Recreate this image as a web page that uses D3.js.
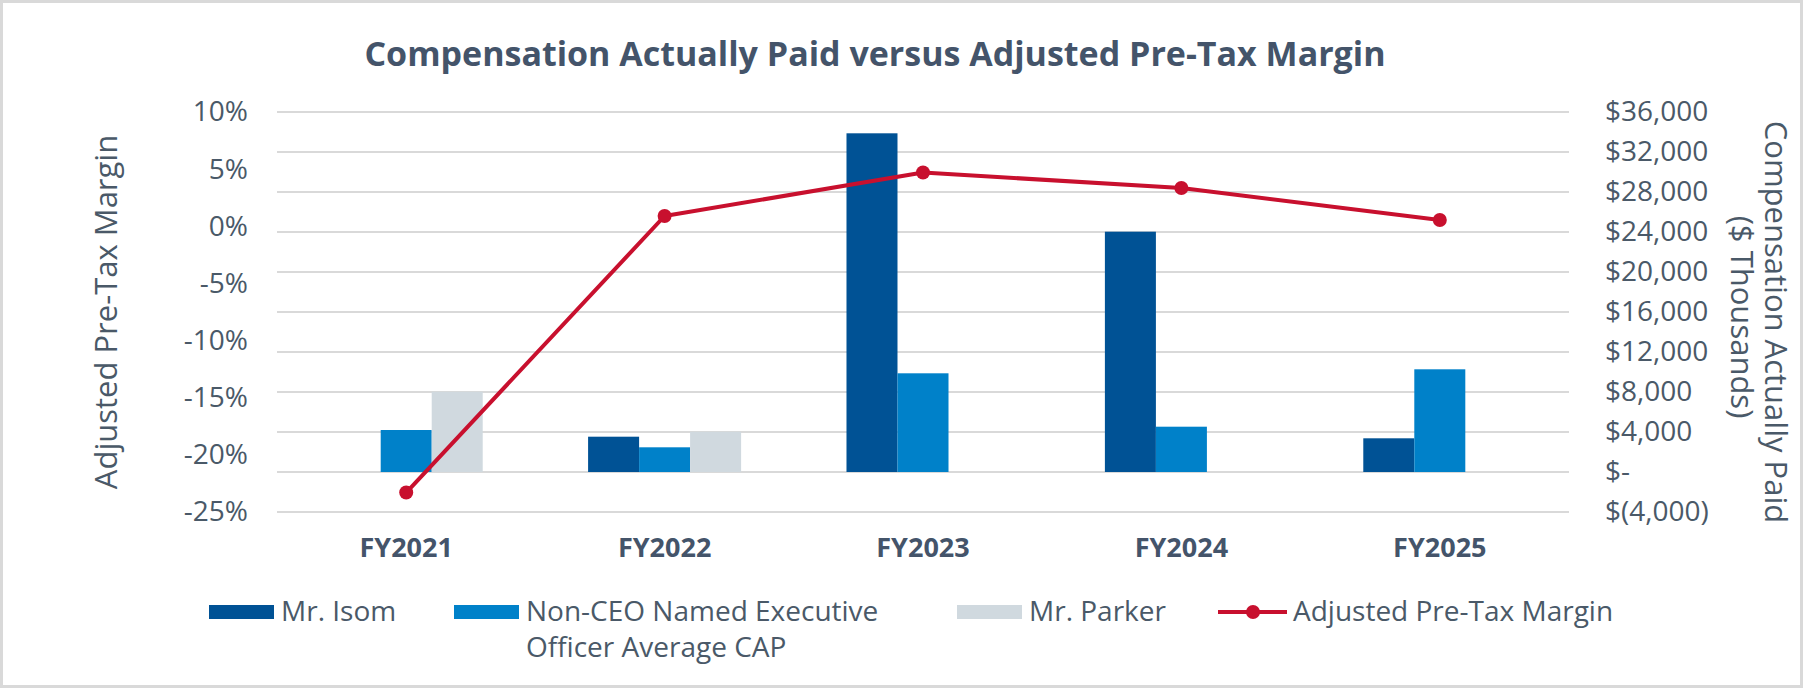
<!DOCTYPE html>
<html>
<head>
<meta charset="utf-8">
<script src="https://cdn.jsdelivr.net/npm/d3@7"></script>
<style>
  html, body { margin: 0; padding: 0; background: #fff; }
  svg { display: block; font-family: "Open Sans", "Noto Sans", sans-serif; }
</style>
</head>
<body>
<svg id="chart" width="1803" height="689"></svg>
<script>
// ---- data ----
const categories = ["FY2021", "FY2022", "FY2023", "FY2024", "FY2025"];
const seriesNames = ["Mr. Isom", "Non-CEO Named Executive Officer Average CAP", "Mr. Parker"];
const isomCAP = [null, 3530, 33870, 24030, 3370];
const nonCeoCAP = [4200, 2470, 9870, 4530, 10270];
const parkerCAP = [8030, 4030, null, null, null];
const pretaxMargin = [-23.3, 0.9, 4.7, 3.35, 0.55];
const leftTicks = [10, 5, 0, -5, -10, -15, -20, -25];
const leftTickLabels = ["10%", "5%", "0%", "-5%", "-10%", "-15%", "-20%", "-25%"];
const rightTicks = [36000, 32000, 28000, 24000, 20000, 16000, 12000, 8000, 4000, 0, -4000];
const rightTickLabels = ["$36,000", "$32,000", "$28,000", "$24,000", "$20,000", "$16,000", "$12,000", "$8,000", "$4,000", "$-", "$(4,000)"];
const legendLabels = [["Mr. Isom"], ["Non-CEO Named Executive", "Officer Average CAP"], ["Mr. Parker"], ["Adjusted Pre-Tax Margin"]];

const colors = { isom: "#005295", nonceo: "#0081c9", parker: "#d0d9df", line: "#c8102e" };
const textColor = "#4a5968";
const titleColor = "#44546a";

const svg = d3.select("#chart");

// border
svg.append("rect").attr("x", 1.5).attr("y", 1.5).attr("width", 1800).attr("height", 685)
  .attr("fill", "#fff").attr("stroke", "#d9d9d9").attr("stroke-width", 3);

const plot = { left: 277, right: 1569, top: 112, bottom: 512 };

const x = d3.scaleBand().domain(categories).range([plot.left, plot.right]).paddingInner(0).paddingOuter(0);
const x1 = d3.scaleBand().domain(seriesNames).range([0, x.bandwidth()]).paddingInner(0).paddingOuter(1.033);
const yL = d3.scaleLinear().domain([-25, 10]).range([plot.bottom, plot.top]);
const yR = d3.scaleLinear().domain([-4000, 36000]).range([plot.bottom, plot.top]);

// gridlines
svg.append("g").selectAll("line").data(rightTicks).join("line")
  .attr("x1", plot.left).attr("x2", plot.right)
  .attr("y1", d => yR(d)).attr("y2", d => yR(d))
  .attr("stroke", "#d9d9d9").attr("stroke-width", 2);

// title
svg.append("text").attr("x", 875).attr("y", 66).attr("text-anchor", "middle")
  .attr("font-size", 34).attr("font-weight", 700).attr("fill", titleColor)
  .text("Compensation Actually Paid versus Adjusted Pre-Tax Margin");

// left axis
const leftAxis = d3.axisLeft(yL).tickValues(leftTicks)
  .tickFormat((d, i) => leftTickLabels[i]).tickSize(0).tickPadding(0);
const gL = svg.append("g").attr("transform", "translate(248,0)").call(leftAxis);
gL.select(".domain").remove();
gL.selectAll("text").attr("font-size", 28).attr("fill", textColor).attr("font-family", "Open Sans, sans-serif");

// right axis
const rightAxis = d3.axisRight(yR).tickValues(rightTicks)
  .tickFormat((d, i) => rightTickLabels[i]).tickSize(0).tickPadding(0);
const gR = svg.append("g").attr("transform", "translate(1605,0)").call(rightAxis);
gR.select(".domain").remove();
gR.selectAll("text").attr("font-size", 28).attr("fill", textColor).attr("font-family", "Open Sans, sans-serif");

// category axis
const bottomAxis = d3.axisBottom(x).tickSize(0).tickPadding(0);
const gB = svg.append("g").attr("transform", "translate(0,557)").call(bottomAxis);
gB.select(".domain").remove();
gB.selectAll("text").attr("font-size", 27).attr("font-weight", 700).attr("fill", titleColor)
  .attr("dy", 0).attr("font-family", "Open Sans, sans-serif");

// axis titles
svg.append("text").attr("transform", "translate(117,312) rotate(-90)").attr("text-anchor", "middle")
  .attr("font-size", 31).attr("fill", textColor).text("Adjusted Pre-Tax Margin");
svg.append("text").attr("transform", "translate(1765,322) rotate(90)").attr("text-anchor", "middle")
  .attr("font-size", 31).attr("fill", textColor).text("Compensation Actually Paid");
svg.append("text").attr("transform", "translate(1731,317) rotate(90)").attr("text-anchor", "middle")
  .attr("font-size", 31).attr("fill", textColor).text("($ Thousands)");

// bars
const barSeries = [
  { name: seriesNames[0], values: isomCAP, color: colors.isom },
  { name: seriesNames[1], values: nonCeoCAP, color: colors.nonceo },
  { name: seriesNames[2], values: parkerCAP, color: colors.parker }
];
const gBars = svg.append("g");
barSeries.forEach(s => {
  const pts = categories.map((c, i) => ({ c, v: s.values[i] })).filter(d => d.v !== null);
  gBars.selectAll(null).data(pts).join("rect")
    .attr("x", d => x(d.c) + x1(s.name))
    .attr("width", x1.bandwidth())
    .attr("y", d => yR(Math.max(0, d.v)))
    .attr("height", d => Math.abs(yR(d.v) - yR(0)))
    .attr("fill", s.color);
});

// line
const linePts = categories.map((c, i) => ({ c, v: pretaxMargin[i] }));
const lineGen = d3.line().x(d => x(d.c) + x.bandwidth() / 2).y(d => yL(d.v));
svg.append("path").datum(linePts).attr("d", lineGen)
  .attr("fill", "none").attr("stroke", colors.line).attr("stroke-width", 4).attr("stroke-linejoin", "round");
svg.append("g").selectAll("circle").data(linePts).join("circle")
  .attr("cx", d => x(d.c) + x.bandwidth() / 2).attr("cy", d => yL(d.v)).attr("r", 7)
  .attr("fill", colors.line);

// legend
const legY = 612;
const legItems = [
  { x: 209, color: colors.isom, type: "rect" },
  { x: 454, color: colors.nonceo, type: "rect" },
  { x: 957, color: colors.parker, type: "rect" },
  { x: 1218, color: colors.line, type: "line" }
];
const gLeg = svg.append("g");
legItems.forEach((it, i) => {
  if (it.type === "rect") {
    gLeg.append("rect").attr("x", it.x).attr("y", legY - 7).attr("width", 65).attr("height", 14).attr("fill", it.color);
  } else {
    gLeg.append("line").attr("x1", it.x).attr("x2", it.x + 69).attr("y1", legY).attr("y2", legY)
      .attr("stroke", it.color).attr("stroke-width", 4);
    gLeg.append("circle").attr("cx", it.x + 35).attr("cy", legY).attr("r", 7).attr("fill", it.color);
  }
  const tx = it.x + (it.type === "rect" ? 72 : 75);
  legendLabels[i].forEach((ln, j) => {
    gLeg.append("text").attr("x", tx).attr("y", 621 + j * 36)
      .attr("font-size", 28).attr("fill", textColor).text(ln);
  });
});
</script>
</body>
</html>
